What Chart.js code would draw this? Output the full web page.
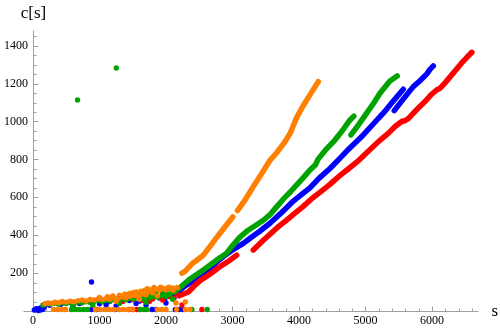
<!DOCTYPE html>
<html>
<head>
<meta charset="utf-8">
<script src="https://cdn.jsdelivr.net/npm/chart.js@4.4.0/dist/chart.umd.min.js"></script>
<style>
  html, body { margin: 0; padding: 0; background: #fff; }
</style>
</head>
<body>
<canvas id="chart" width="500" height="331"></canvas>
<script>
  // tick labels
  const xTicks = [0, 1000, 2000, 3000, 4000, 5000, 6000];
  const yTicks = [200, 400, 600, 800, 1000, 1200, 1400];

  // series, [s, c] pairs
  const orangeLineA = [[2240,200],[2290,210],[2400,252],[2480,272],[2561,295],[2650,335],[2740,378],[2812,410],[2900,450],[3005,496]];
  const orangeLineB = [[3075,530],[3200,592],[3313,656],[3440,725],[3564,795],[3665,835],[3780,888],[3870,940],[3965,1020],[4050,1075],[4120,1115],[4200,1160],[4290,1210]];
  const orangeDots = [[180,38],[230,42],[280,40],[330,46],[390,44],[440,50],[500,47],[560,52],[620,49],[680,55],[740,58],[800,53],[860,61],[920,58],[980,64],[1040,60],[1100,66],[1160,63],[1220,70],[1280,66],[1340,74],[1400,70],[1460,78],[1520,82],[1580,76],[1640,90],[1700,86],[1740,104],[1800,96],[1850,116],[1900,108],[1950,120],[2000,112],[2060,118],[2110,110],[2170,124],[1250,50],[1600,62],[1870,80],[2150,42],[2290,48],[1500,96],[1680,110],
    [1000,72],[1120,76],[1200,80],[1300,84],[1380,88],[1450,92],[1550,100],[1620,104],[1720,118],[1780,112],[1820,124],[1920,126],[1980,118],[2040,126],[2100,122],
    [310,8],[370,8],[430,8],[490,8],[940,8],[1010,8],[1080,8],[1150,8],[1220,8],[1290,8],[1360,8],[1430,8],[1500,8],[1870,8],[1940,8],[2000,8],[2160,8],[2290,8],[2360,8]];

  const greenLineA = [[2120,100],[2200,120],[2336,162],[2450,190],[2561,216],[2700,252],[2800,278],[2912,305],[3000,345],[3113,390],[3230,425],[3363,455],[3470,480],[3564,508],[3660,548],[3764,590],[3880,632],[3965,665],[4070,705],[4165,744],[4250,772],[4285,800],[4400,850],[4541,902],[4660,955],[4767,1008],[4825,1028]];
  const greenLineB = [[4782,929],[4900,985],[5018,1044],[5120,1095],[5218,1149],[5300,1185],[5368,1214],[5478,1240]];
  const greenDots = [[150,32],[200,38],[260,35],[320,41],[380,37],[440,43],[500,39],[560,45],[620,41],[680,47],[740,43],[800,49],[860,45],[920,51],[980,55],[1040,49],[1100,57],[1160,53],[1220,61],[1280,56],[1340,63],[1400,59],[1460,67],[1520,63],[1580,71],[1640,65],[1700,73],[1760,69],[1820,77],[1880,72],[1940,82],[2000,76],[2060,88],[600,28],[900,30],[1300,40],[1700,46],[2100,62],
    [1000,62],[1200,70],[1500,78],[1600,84],[1750,90],[1850,94],[1980,96],[2080,100],
    [580,8],[640,8],[700,8],[760,8],[820,8],[1610,8],[1670,8],[1710,8],[2390,8],[2620,8],
    [670,1113],[1253,1282]];

  const redLineA = [[2200,80],[2336,100],[2420,130],[2511,160],[2620,185],[2720,210],[2812,234],[2950,265],[3063,295]];
  const redLineB = [[3313,322],[3440,365],[3564,405],[3690,445],[3815,480],[3940,516],[4065,552],[4200,595],[4300,622],[4466,668],[4600,710],[4750,752],[4900,795],[5050,845],[5200,895],[5350,940],[5450,975],[5544,1000],[5600,1005],[5644,1015],[5750,1055],[5880,1100],[6000,1145],[6070,1166],[6120,1175],[6200,1205],[6320,1255],[6450,1310],[6530,1340],[6600,1365]];
  const redDots = [[1350,50],[1500,60],[1650,56],[1800,63],[1900,72],[1950,58],[2050,76],[2120,68],[2240,32],
    [1700,80],[1850,88],[2000,90],[2150,95],[1750,50],
    [1440,8],[1500,8],[1560,8],[1600,8],[2540,8]];

  const blueLineA = [[2150,95],[2300,135],[2420,160],[2511,181],[2620,210],[2750,255],[2862,287],[3000,322],[3163,357],[3280,388],[3400,418],[3564,463],[3740,520],[3915,580],[4050,618],[4165,650],[4300,700],[4466,752],[4600,800],[4750,855],[4967,929],[5100,980],[5268,1044],[5400,1100],[5569,1170]];
  const blueLineB = [[5433,1057],[5550,1110],[5719,1184],[5820,1215],[5920,1250],[5970,1275],[6020,1293]];
  const blueDots = [[20,5],[50,12],[80,3],[110,16],[140,8],[170,22],[250,30],[420,36],[700,40],[900,46],[1000,38],[1150,50],[1250,26],[1300,46],[1450,55],[1600,52],[1700,32],[1750,60],[1900,68],[1980,62],[2000,42],[2050,80],[2120,72],[880,153],
    [600,30],[1100,32],[1300,60],[1500,70],[1550,40],[1650,78],[1800,84],[1950,90],[2080,92],
    [30,6],[70,8],[110,5],[150,10],[880,8],[950,8],[1230,8],[1790,8],[1850,8],[2140,8],[2190,8],[2250,8]];

  const ORANGE = '#ff8000', GREEN = '#00a300', RED = '#ff0000', BLUE = '#0000ff';
  const axisColor = '#a0a0a0';
  const serif = '"Liberation Serif", "DejaVu Serif", serif';

  const pts = arr => arr.map(p => ({ x: p[0], y: p[1] }));

  function lineSet(arr, color) {
    return {
      data: pts(arr), showLine: true, borderColor: color, borderWidth: 5.5,
      borderCapStyle: 'round', borderJoinStyle: 'round', pointRadius: 0, clip: false
    };
  }
  function dotSet(arr, color) {
    return {
      data: pts(arr), backgroundColor: color, borderWidth: 0, pointRadius: 2.7, clip: false
    };
  }

  // Mathematica-like axes: inward major and minor ticks, labels at the axis ends
  const axesPlugin = {
    id: 'axes',
    beforeDatasetsDraw(chart) {
      const { ctx, scales: { x, y } } = chart;
      const x0 = Math.round(x.getPixelForValue(0)) + 0.5;
      const y0 = Math.round(y.getPixelForValue(0)) + 0.5;
      ctx.save();
      ctx.strokeStyle = axisColor;
      ctx.lineWidth = 1;
      ctx.beginPath();
      ctx.moveTo(x0 - 10, y0); ctx.lineTo(x.right, y0);
      ctx.moveTo(x0, y0); ctx.lineTo(x0, y.top);
      for (let v = 200; v <= 6600; v += 200) {
        const px = Math.round(x.getPixelForValue(v)) + 0.5;
        const len = v % 1000 === 0 ? 5 : 3;
        ctx.moveTo(px, y0); ctx.lineTo(px, y0 - len);
      }
      for (let v = 50; v <= 1450; v += 50) {
        const py = Math.round(y.getPixelForValue(v)) + 0.5;
        const len = v % 200 === 0 ? 5 : 3;
        ctx.moveTo(x0, py); ctx.lineTo(x0 + len, py);
      }
      ctx.stroke();
      ctx.fillStyle = '#000';
      ctx.font = '17px ' + serif;
      ctx.textAlign = 'center';
      ctx.fillText('c[s]', x0, y.top - 13);
      ctx.textAlign = 'left';
      ctx.fillText('s', x.right + 13, y0 + 4);
      ctx.restore();
    }
  };

  new Chart(document.getElementById('chart'), {
    type: 'scatter',
    data: {
      datasets: [
        lineSet(orangeLineA, ORANGE), lineSet(orangeLineB, ORANGE), dotSet(orangeDots, ORANGE),
        lineSet(greenLineA, GREEN), lineSet(greenLineB, GREEN), dotSet(greenDots, GREEN),
        lineSet(redLineA, RED), lineSet(redLineB, RED), dotSet(redDots, RED),
        lineSet(blueLineA, BLUE), lineSet(blueLineB, BLUE), dotSet(blueDots, BLUE)
      ]
    },
    options: {
      responsive: false,
      animation: false,
      layout: { padding: { top: 30.5, right: 21.5, bottom: 0, left: 0 } },
      plugins: { legend: { display: false }, tooltip: { enabled: false } },
      scales: {
        x: {
          type: 'linear', min: 0, max: 6700,
          border: { display: false },
          grid: { display: false, drawTicks: false },
          afterBuildTicks: s => { s.ticks = xTicks.map(v => ({ value: v })); },
          ticks: { padding: 3, maxRotation: 0, autoSkip: false, color: '#000',
                   font: { family: serif, size: 12 }, callback: v => String(v) },
          afterFit: s => { s.height = 20; }
        },
        y: {
          type: 'linear', min: 0, max: 1480,
          border: { display: false },
          grid: { display: false, drawTicks: false },
          afterBuildTicks: s => { s.ticks = yTicks.map(v => ({ value: v })); },
          ticks: { padding: 5, color: '#000',
                   font: { family: serif, size: 12 }, callback: v => String(v) },
          afterFit: s => { s.width = 33; }
        }
      }
    },
    plugins: [axesPlugin]
  });
</script>
</body>
</html>
